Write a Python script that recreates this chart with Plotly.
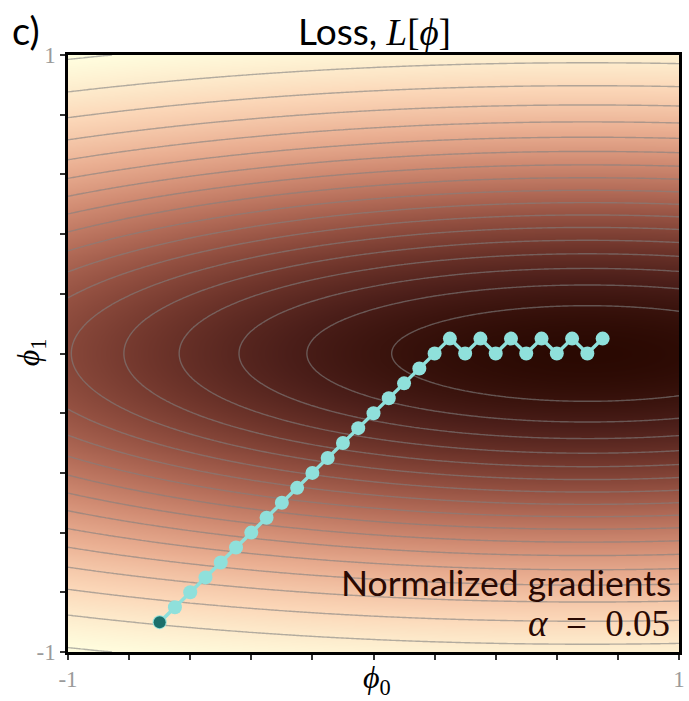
import numpy as np
import plotly.graph_objects as go

# ---------------- data ----------------
# Loss surface parameters: L = 1 - exp(-0.5*phi1^2*4) * exp(-0.5*(phi0-0.7)^2/4)
loss_center_phi0 = 0.7
loss_phi1_precision = 4.0
loss_phi0_variance = 4.0

# gradient-descent path (normalized gradients, alpha = 0.05)
path_phi0 = [-0.70, -0.65, -0.60, -0.55, -0.50, -0.45, -0.40, -0.35, -0.30, -0.25,
             -0.20, -0.15, -0.10, -0.05, 0.00, 0.05, 0.10, 0.15, 0.20, 0.25,
             0.30, 0.35, 0.40, 0.45, 0.50, 0.55, 0.60, 0.65, 0.70, 0.75]
path_phi1 = [-0.90, -0.85, -0.80, -0.75, -0.70, -0.65, -0.60, -0.55, -0.50, -0.45,
             -0.40, -0.35, -0.30, -0.25, -0.20, -0.15, -0.10, -0.05, 0.00, 0.05,
             0.00, 0.05, 0.00, 0.05, 0.00, 0.05, 0.00, 0.05, 0.00, 0.05]

tick_vals = [-1.0, -0.8, -0.6, -0.4, -0.2, 0.0, 0.2, 0.4, 0.6, 0.8, 1.0]
tick_text = ["-1", " ", " ", " ", " ", " ", " ", " ", " ", " ", "1"]

contour_levels = dict(start=0.05, end=0.90, size=0.05)

cmap_stops = ["#2a0902", "#4b1e19", "#6f352b", "#924f40", "#b36c58",
              "#d18c73", "#eaaf92", "#fbd6b7", "#ffffe0"]

# ---------------- surface ----------------
g = np.linspace(-1.0, 1.0, 241)
P0, P1 = np.meshgrid(g, g)
height = np.exp(-0.5 * P1 * P1 * loss_phi1_precision)
height = height * np.exp(-0.5 * (P0 - loss_center_phi0) ** 2 / loss_phi0_variance)
Z = 1.0 - height

colorscale = [[i / (len(cmap_stops) - 1), c] for i, c in enumerate(cmap_stops)]

fig = go.Figure()
fig.add_trace(go.Heatmap(x=g, y=g, z=Z, colorscale=colorscale, zsmooth="best",
                         zmin=float(Z.min()), zmax=float(Z.max()), showscale=False,
                         hoverinfo="skip"))
fig.add_trace(go.Contour(x=g, y=g, z=Z, contours=dict(coloring="none", **contour_levels),
                         line=dict(color="rgba(128,128,128,0.6)", width=1.4),
                         showscale=False, hoverinfo="skip"))
fig.add_trace(go.Scatter(x=path_phi0, y=path_phi1, mode="lines+markers",
                         line=dict(color="#8fe0db", width=3.5),
                         marker=dict(color="#8fe0db", size=14),
                         hoverinfo="skip"))
fig.add_trace(go.Scatter(x=path_phi0[:1], y=path_phi1[:1], mode="markers",
                         marker=dict(color="#1b6f6b", size=12), hoverinfo="skip"))

axis_common = dict(range=[-1, 1], tickmode="array", tickvals=tick_vals, ticktext=tick_text,
                   ticks="outside", ticklen=5, tickwidth=1.5, tickcolor="#333",
                   showline=True, linecolor="black", linewidth=2.5, mirror=True,
                   showgrid=False, zeroline=False,
                   tickfont=dict(family="Liberation Serif", size=23, color="#9a9a9a"))
fig.update_xaxes(**axis_common)
fig.update_yaxes(**axis_common)

W, H = 689, 701
L_, R_, T_, B_ = 68, 4, 55, 49
pw, ph = W - L_ - R_, H - T_ - B_

def px(x):
    return (x - L_) / pw

def py(y):
    return (H - B_ - y) / ph

ann = []
ann.append(dict(x=px(378), y=py(30), text='Loss, <span style="font-family:Liberation Serif"><i>L</i>[<i>ϕ</i>]</span>',
                font=dict(family="Lato", size=37, color="black")))
ann.append(dict(x=px(26), y=py(30), text="c)", font=dict(family="Lato", size=38, color="black")))
ann.append(dict(x=px(679), y=py(582), text="Normalized gradients", xanchor="right",
                font=dict(family="Lato", size=35.5, color="#2a0902")))
ann.append(dict(x=px(678), y=py(623), text="<i>α</i>\u2002=\u20020.05", xanchor="right",
                font=dict(family="Liberation Serif", size=37, color="#2a0902")))
ann.append(dict(x=px(380), y=py(679), text="<i>ϕ</i><sub>0</sub>",
                font=dict(family="Liberation Serif", size=32, color="black")))
ann.append(dict(x=px(30), y=py(352), text="<i>ϕ</i><sub>1</sub>", textangle=-90,
                font=dict(family="Liberation Serif", size=32, color="black")))
for a in ann:
    a.update(xref="paper", yref="paper", showarrow=False)
    a.setdefault("xanchor", "center")
    a.setdefault("yanchor", "middle")

fig.update_layout(width=W, height=H, margin=dict(l=L_, r=R_, t=T_, b=B_),
                  paper_bgcolor="white", plot_bgcolor="white", showlegend=False,
                  annotations=ann)

fig.write_html("out.html", config={"displayModeBar": False},
               post_script="document.body.style.margin='0px';document.body.style.overflow='hidden';")
